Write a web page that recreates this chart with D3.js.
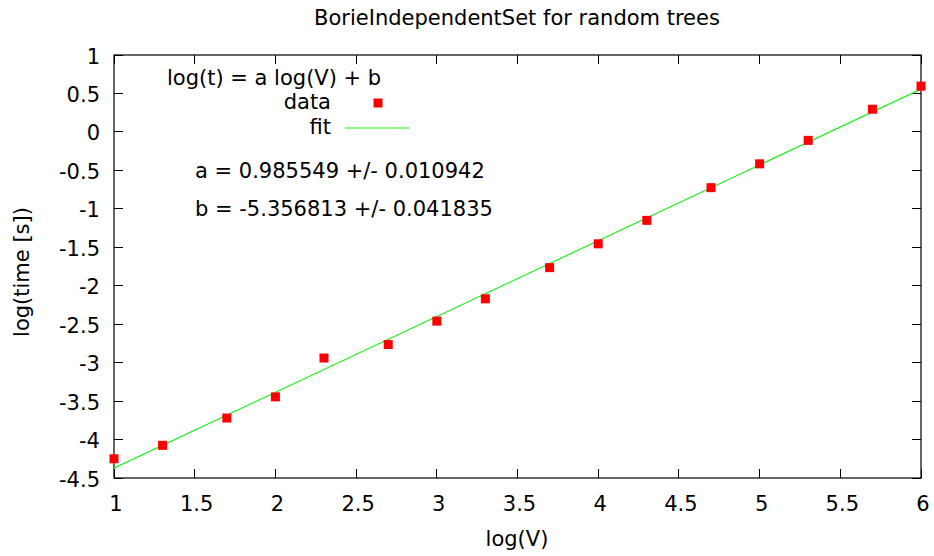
<!DOCTYPE html>
<html>
<head>
<meta charset="utf-8">
<script src="https://cdn.jsdelivr.net/npm/d3@7"></script>
<style>
  html, body { margin: 0; padding: 0; background: #fff; }
  svg text { font-family: "DejaVu Sans", sans-serif; font-size: 21px; fill: #000; }
</style>
</head>
<body>
<svg id="chart" width="934" height="556"></svg>
<script>
// ---- data ----
const logV = [1, 1.30103, 1.69897, 2, 2.30103, 2.69897, 3, 3.30103, 3.69897, 4, 4.30103, 4.69897, 5, 5.30103, 5.69897, 6];
const logT = [-4.25, -4.075, -3.72, -3.445, -2.94, -2.765, -2.46, -2.17, -1.765, -1.455, -1.15, -0.725, -0.415, -0.11, 0.295, 0.595];
const fitX = [1, 6];
const fitY = [-4.371264, 0.556481];
const xTicks = [1, 1.5, 2, 2.5, 3, 3.5, 4, 4.5, 5, 5.5, 6];
const yTicks = [-4.5, -4, -3.5, -3, -2.5, -2, -1.5, -1, -0.5, 0, 0.5, 1];
const titleText = "BorieIndependentSet for random trees";
const xLabel = "log(V)";
const yLabel = "log(time [s])";
const keyTitle = "log(t) = a log(V) + b";
const keyLabels = ["data", "fit"];
const fitLabels = ["a = 0.985549 +/- 0.010942", "b = -5.356813 +/- 0.041835"];

// ---- layout ----
const L = 114, R = 921, T = 55, B = 478;
const svg = d3.select("#chart");
const x = d3.scaleLinear().domain([1, 6]).range([L, R]);
const y = d3.scaleLinear().domain([-4.5, 1]).range([B, T]);
const tickLen = 9;
const fmt = d => String(d);

// ticks (inward, mirrored)
const g = svg.append("g");
g.selectAll("line.xb").data(xTicks).enter().append("line")
  .attr("x1", d => x(d)).attr("x2", d => x(d)).attr("y1", B).attr("y2", B - tickLen)
  .attr("stroke", "#000").attr("stroke-width", 1).attr("shape-rendering", "crispEdges");
g.selectAll("line.xt").data(xTicks).enter().append("line")
  .attr("x1", d => x(d)).attr("x2", d => x(d)).attr("y1", T).attr("y2", T + tickLen)
  .attr("stroke", "#000").attr("stroke-width", 1).attr("shape-rendering", "crispEdges");
g.selectAll("line.yl").data(yTicks).enter().append("line")
  .attr("y1", d => y(d)).attr("y2", d => y(d)).attr("x1", L).attr("x2", L + tickLen)
  .attr("stroke", "#000").attr("stroke-width", 1).attr("shape-rendering", "crispEdges");
g.selectAll("line.yr").data(yTicks).enter().append("line")
  .attr("y1", d => y(d)).attr("y2", d => y(d)).attr("x1", R).attr("x2", R - tickLen)
  .attr("stroke", "#000").attr("stroke-width", 1).attr("shape-rendering", "crispEdges");

// tick labels
g.selectAll("text.xl").data(xTicks).enter().append("text")
  .attr("x", d => x(d) + 2).attr("y", B + 33).attr("text-anchor", "middle")
  .text(fmt);
g.selectAll("text.yl").data(yTicks).enter().append("text")
  .attr("x", L - 14).attr("y", d => y(d) + 8.5).attr("text-anchor", "end")
  .text(fmt);

// frame
svg.append("rect").attr("x", L).attr("y", T).attr("width", R - L).attr("height", B - T)
  .attr("fill", "none").attr("stroke", "#000").attr("stroke-width", 1.2);

// fit line
const line = d3.line().x(d => x(d[0])).y(d => y(d[1]));
svg.append("path").datum(fitX.map((v, i) => [v, fitY[i]]))
  .attr("d", line).attr("fill", "none").attr("stroke", "#22ee22").attr("stroke-width", 1.2);

// data points
const ms = 9;
svg.selectAll("rect.pt").data(logV).enter().append("rect")
  .attr("x", (d) => x(d) - ms / 2).attr("y", (d, i) => y(logT[i]) - ms / 2)
  .attr("width", ms).attr("height", ms).attr("fill", "#ff0000");

// title and axis labels
svg.append("text").attr("x", 517).attr("y", 25).attr("text-anchor", "middle").text(titleText);
svg.append("text").attr("x", 517).attr("y", 546).attr("text-anchor", "middle").text(xLabel);
svg.append("text").attr("transform", "translate(29,272) rotate(-90)").attr("text-anchor", "middle").text(yLabel);

// key
svg.append("text").attr("x", 167).attr("y", 85).text(keyTitle);
svg.append("text").attr("x", 331).attr("y", 109).attr("text-anchor", "end").text(keyLabels[0]);
svg.append("text").attr("x", 331).attr("y", 134).attr("text-anchor", "end").text(keyLabels[1]);
svg.append("rect").attr("x", 378 - ms / 2).attr("y", 103 - ms / 2).attr("width", ms).attr("height", ms).attr("fill", "#ff0000");
svg.append("line").attr("x1", 345).attr("x2", 410).attr("y1", 128).attr("y2", 128)
  .attr("stroke", "#22ee22").attr("stroke-width", 1.2);

// fit parameter labels
svg.append("text").attr("x", 195).attr("y", 178).text(fitLabels[0]);
svg.append("text").attr("x", 195).attr("y", 216).text(fitLabels[1]);
</script>
</body>
</html>
